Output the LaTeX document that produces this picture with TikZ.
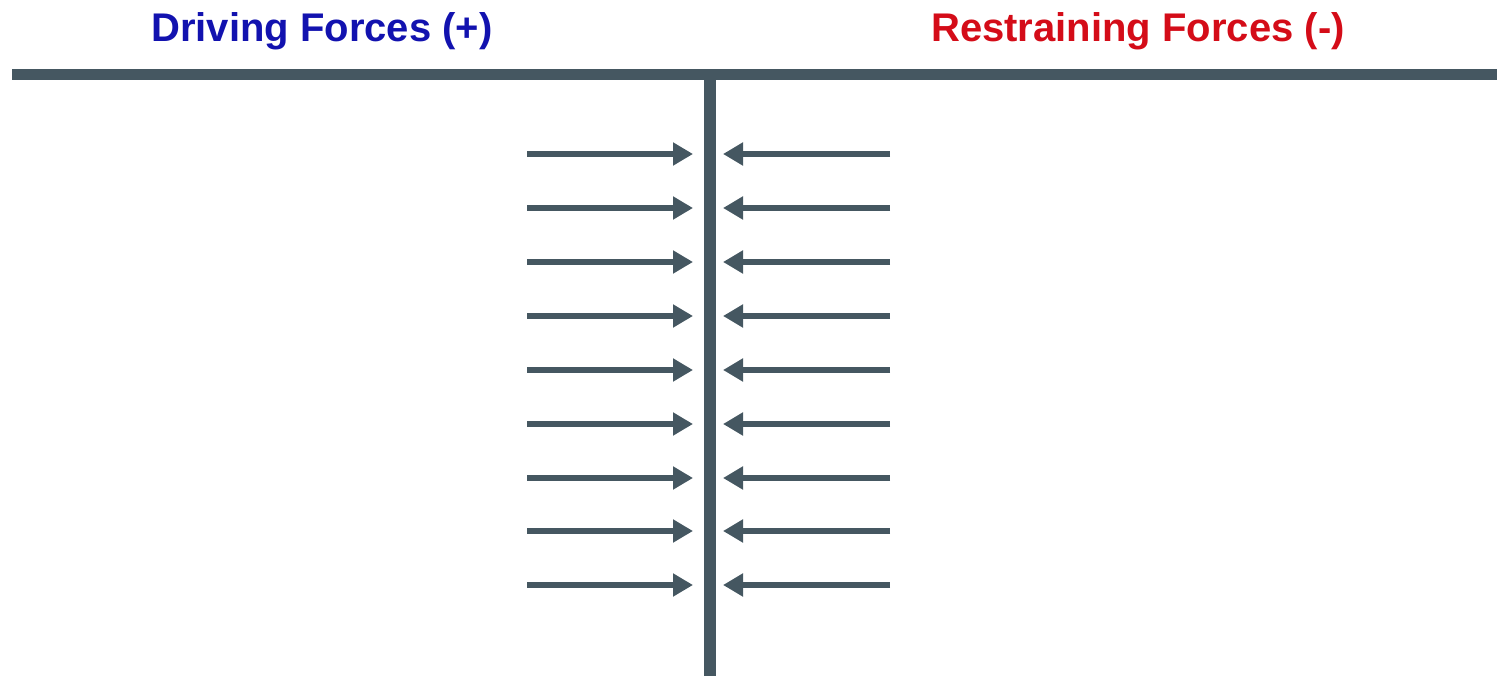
\documentclass[tikz,border=0pt]{standalone}
\usepackage{fontspec}
\setmainfont{Liberation Sans}
\usetikzlibrary{arrows.meta}
\definecolor{slate}{RGB}{69,87,97}
\definecolor{drivblue}{RGB}{18,18,175}
\definecolor{restred}{RGB}{212,12,24}
\tikzset{
  title/.style={font=\fontsize{40}{44}\selectfont\bfseries, anchor=base, inner sep=0pt},
  bar/.style={draw=slate, line width=11pt},
  force/.style={draw=slate, line width=6pt, -{Triangle[length=20pt,width=22pt]}}
}
\begin{document}
\begin{tikzpicture}[x=1pt,y=-1pt]
\useasboundingbox (0,0) rectangle (1497,676);
\node[title, text=drivblue] (drive) at (322,42) {Driving Forces (+)};
\node[title, text=restred] (restrain) at (1138,42) {Restraining Forces (-)};
\coordinate (hl) at (12,74.5);
\coordinate (hr) at (1497,74.5);
\coordinate (vt) at (710,74.5);
\coordinate (vb) at (710,676);
\draw[bar] (hl) -- (hr);
\draw[bar, line width=12pt] (vt) -- (vb);
\foreach \i/\yy in {1/154,2/208,3/262,4/316,5/370,6/424,7/478,8/531,9/585}{
  \coordinate (dl\i) at (527,\yy);
  \coordinate (dr\i) at (693,\yy);
  \coordinate (rl\i) at (723,\yy);
  \coordinate (rr\i) at (890,\yy);
  \draw[force] (dl\i) -- (dr\i);
  \draw[force] (rr\i) -- (rl\i);
}
\end{tikzpicture}
\end{document}
